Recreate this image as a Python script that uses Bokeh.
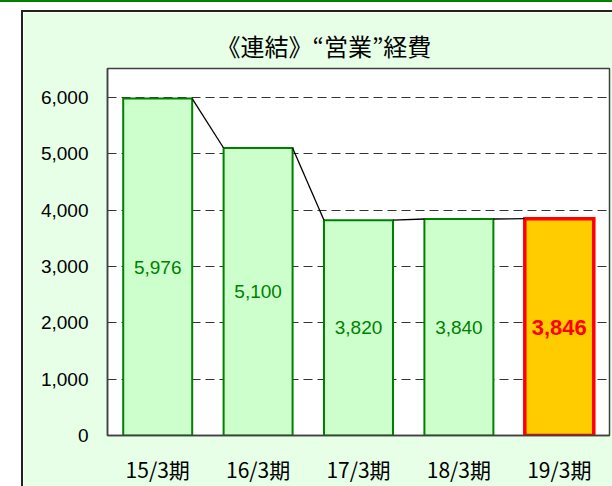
from bokeh.plotting import figure
from bokeh.models import (FactorRange, Range1d, FixedTicker, NumeralTickFormatter,
                          ColumnDataSource, Spacer, Title)
from bokeh.layouts import row, column
from bokeh.core.properties import value
from bokeh.embed import file_html
from bokeh.resources import INLINE

# ---- data ----
categories = ["15/3期", "16/3期", "17/3期", "18/3期", "19/3期"]
expenses = [5976, 5100, 3820, 3840, 3846]
y_ticks = [0, 1000, 2000, 3000, 4000, 5000, 6000]
title_text = "《連結》“営業”経費"

# ---- styles ----
BAR_W = 0.687
fills = ["#CCFFCC"] * 4 + ["#FFCC00"]
lines = ["#008000"] * 4 + ["#FF0000"]
lwidths = [2] * 4 + [3.5]
label_colors = ["#008000"] * 4 + ["#FF0000"]
label_sizes = ["19px"] * 4 + ["22px"]
label_styles = ["normal"] * 4 + ["bold"]

src = ColumnDataSource(dict(
    cat=categories, val=expenses, half=[v / 2 for v in expenses],
    txt=[f"{v:,}" for v in expenses],
    fill=fills, line=lines, lw=lwidths,
    tc=label_colors, ts=label_sizes, tst=label_styles,
))

p = figure(x_range=FactorRange(*categories), y_range=Range1d(0, 6510),
           width=589, height=474, output_backend="svg", toolbar_location=None,
           min_border_left=84, min_border_right=3, min_border_top=56, min_border_bottom=49)
p.background_fill_color = "white"
p.border_fill_color = "#E6FFE6"
p.outline_line_color = "#404040"
p.outline_line_width = 1.5

# chart title
p.add_layout(Title(text=title_text, align="left", offset=109, standoff=11,
                   text_font="Noto Sans CJK JP", text_font_size="24px",
                   text_font_style="normal", text_color="black"), "above")

# grid
p.xgrid.visible = False
p.ygrid.ticker = FixedTicker(ticks=y_ticks[1:])
p.ygrid.grid_line_color = "#333333"
p.ygrid.grid_line_dash = "9 5"
p.ygrid.grid_line_width = 1

# bars
p.vbar(x="cat", top="val", width=BAR_W, fill_color="fill", line_color="line",
       line_width="lw", line_join="miter", source=src)

# connecting series lines between bar tops
n = len(expenses)
x0 = [i + 0.5 + BAR_W / 2 for i in range(n - 1)]
x1 = [i + 1.5 - BAR_W / 2 for i in range(n - 1)]
p.segment(x0=x0, y0=expenses[:-1], x1=x1, y1=expenses[1:], line_color="black", line_width=1.3)

# value labels
p.text(x="cat", y="half", text="txt", text_color="tc", text_font_size="ts",
       text_font_style="tst", text_font=value("Liberation Sans"),
       text_align="center", text_baseline="middle", source=src)

# axes
p.yaxis.ticker = FixedTicker(ticks=y_ticks)
p.yaxis.formatter = NumeralTickFormatter(format="0,0")
p.yaxis.major_label_text_font = "Liberation Sans"
p.yaxis.major_label_text_font_size = "19px"
p.yaxis.major_label_text_color = "black"
p.yaxis.major_label_standoff = 19

p.xaxis.major_label_text_font = "Noto Sans CJK JP"
p.xaxis.major_label_text_font_size = "21px"
p.xaxis.major_label_text_color = "black"
p.xaxis.major_label_standoff = 18

for ax in (p.xaxis[0], p.yaxis[0]):
    ax.major_tick_out = 0
    ax.major_tick_in = 0
    ax.minor_tick_out = 0
    ax.minor_tick_in = 0
    ax.axis_line_color = "#404040"
    ax.axis_line_width = 1.5


def strip(w, h, color="#222222"):
    return Spacer(width=w, height=h, styles={"background-color": color})


layout = column(
    strip(612, 2, "#008000"),
    Spacer(width=612, height=8),
    row(Spacer(width=21, height=476),
        column(strip(591, 2), row(strip(2, 474), p))),
)

open("out.html", "w").write(file_html(layout, INLINE))
